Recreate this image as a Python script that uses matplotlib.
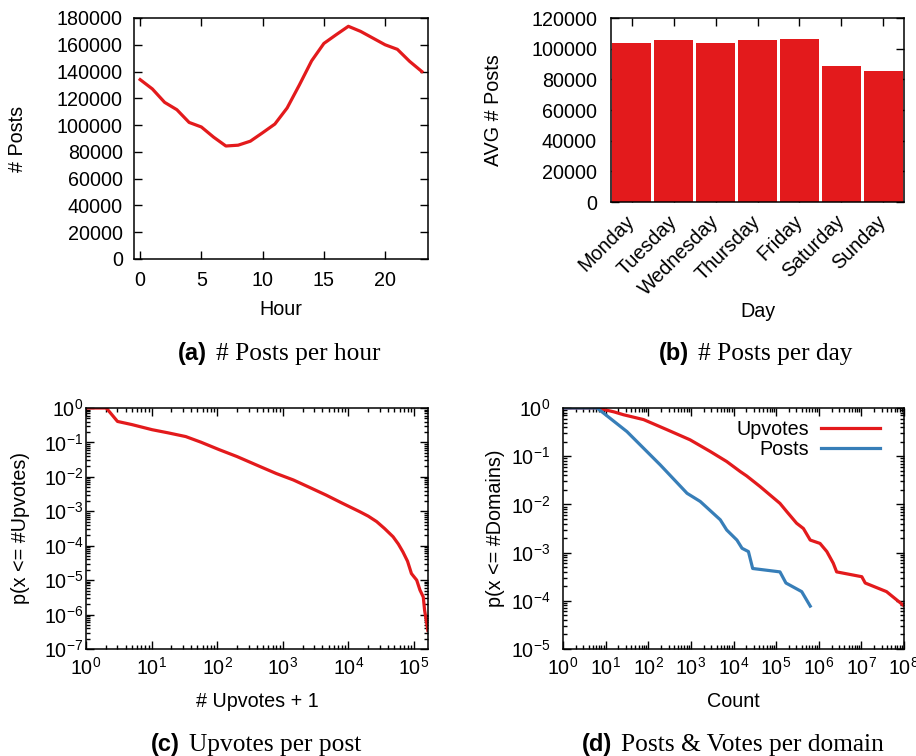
import numpy as np
import matplotlib
matplotlib.use("Agg")
import matplotlib.pyplot as plt
from matplotlib.ticker import LogLocator, NullFormatter

# ======== 字体与全局样式 ========
plt.rcParams['font.family'] = ['Liberation Sans', 'DejaVu Sans']
plt.rcParams['mathtext.default'] = 'regular'
plt.rcParams['axes.unicode_minus'] = False
plt.rcParams['font.size'] = 14.2
plt.rcParams['axes.linewidth'] = 1.1

RED = "#e31a1c"
BLUE = "#377eb8"

# ======== 数据 ========
hours = list(range(24))
posts_per_hour = [134000, 127000, 117000, 111500, 102000, 98600, 91000, 84400,
                  85000, 88000, 94300, 100800, 112800, 130000, 148000, 161000,
                  167500, 173800, 170000, 165000, 160000, 156600, 147600, 140000]

days = ["Monday", "Tuesday", "Wednesday", "Thursday", "Friday", "Saturday", "Sunday"]
avg_posts = [103400, 105400, 103400, 105600, 106500, 88600, 85600]

upv_x = [1, 2.04, 3.02, 5.0, 10.2, 17.8, 33.1, 56.2, 107, 200, 447, 794, 1445,
         2512, 4571, 7943, 14791, 20000, 26915, 35481, 47863, 57544, 67608,
         79433, 91201, 109648, 123027, 138038, 144544, 162181]
upv_p = [1, 1, 0.407, 0.33, 0.234, 0.19, 0.148, 0.102, 0.0617, 0.0389, 0.02,
         0.0125, 0.00813, 0.00501, 0.00295, 0.00174, 0.000977, 0.000724,
         0.000501, 0.000316, 0.000182, 0.000112, 6.61e-5, 3.55e-5, 1.55e-5,
         1.0e-5, 5.13e-6, 3.24e-6, 1.35e-6, 3.47e-7]

dom_upv_x = [1, 6.31, 15.8, 26.3, 77.6, 275, 955, 2818, 6918, 14454, 20417,
             42170, 123027, 177828, 301995, 436516, 630957, 1071519, 1548817,
             2187762, 2630268, 10232930, 12302688, 38904514, 95499259]
dom_upv_p = [1, 1, 0.83, 0.724, 0.575, 0.355, 0.219, 0.126, 0.0776, 0.0479,
             0.0389, 0.0234, 0.0105, 0.00708, 0.00407, 0.00316, 0.00182,
             0.00155, 0.00105, 0.000603, 0.000398, 0.000316, 0.000234,
             0.000155, 8.13e-5]

dom_posts_x = [1, 6.31, 31.6, 191, 813, 1660, 4898, 6918, 12023, 15849,
               22387, 28184, 123027, 169824, 398107, 630957]
dom_posts_p = [1, 1, 0.324, 0.0661, 0.0170, 0.0115, 0.00479, 0.00295, 0.00182,
               0.00123, 0.00105, 0.000468, 0.000398, 0.000234, 0.000155, 7.76e-5]

# ======== 画布 ========
W, H = 916, 756
fig = plt.figure(figsize=(W / 100, H / 100), dpi=100)


def box(l, t, r, b):
    return [l / W, 1 - b / H, (r - l) / W, (b - t) / H]


def style(ax, xpad, ypad):
    ax.tick_params(which='both', direction='in', top=True, right=True, width=1.0)
    ax.tick_params(which='major', length=6)
    ax.tick_params(which='minor', length=3)
    ax.tick_params(axis='x', which='both', pad=xpad)
    ax.tick_params(axis='y', which='both', pad=ypad)


def log_axes(ax):
    for axis in (ax.xaxis, ax.yaxis):
        axis.set_major_locator(LogLocator(base=10, numticks=20))
        axis.set_minor_locator(LogLocator(base=10, subs=np.arange(2, 10), numticks=200))
        axis.set_minor_formatter(NullFormatter())


# ======== (a) 每小时帖子数 ========
ax_a = fig.add_axes(box(134, 18, 428, 259))
ax_a.plot(hours, posts_per_hour, color=RED, lw=2.3)
ax_a.set_xlim(-0.5, 23.5)
ax_a.set_ylim(0, 180000)
ax_a.set_xticks([0, 5, 10, 15, 20])
ax_a.set_yticks(range(0, 180001, 20000))
style(ax_a, 9, 8)
ax_a.set_xlabel("Hour")
ax_a.xaxis.set_label_coords(0.5, -0.17)
ax_a.set_ylabel("# Posts")
ax_a.yaxis.set_label_coords(-0.364, 0.5)

# ======== (b) 每天平均帖子数 ========
ax_b = fig.add_axes(box(611, 18, 904, 202))
ax_b.bar(range(len(days)), avg_posts, width=0.93, color=RED)
ax_b.set_axisbelow(True)
ax_b.set_xlim(-0.5, len(days) - 0.5)
ax_b.set_ylim(0, 120000)
ax_b.set_yticks(range(0, 120001, 20000))
ax_b.set_xticks(range(len(days)))
ax_b.set_xticklabels(days, rotation=45, ha='right', va='center', rotation_mode='anchor')
style(ax_b, 12, 10)
ax_b.set_xlabel("Day")
ax_b.xaxis.set_label_coords(0.5, -0.543)
ax_b.set_ylabel("AVG # Posts")
ax_b.yaxis.set_label_coords(-0.369, 0.5)

# ======== (c) 每帖点赞数 CCDF ========
ax_c = fig.add_axes(box(86, 408, 428, 649))
ax_c.plot(upv_x, upv_p, color=RED, lw=2.3, solid_joinstyle='round')
ax_c.set_xscale('log')
ax_c.set_yscale('log')
ax_c.set_xlim(1, 1.63e5)
ax_c.set_ylim(1e-7, 1)
log_axes(ax_c)
style(ax_c, 6, 2)
ax_c.set_xlabel("# Upvotes + 1")
ax_c.xaxis.set_label_coords(0.5, -0.178)
ax_c.set_ylabel("p(x <= #Upvotes)")
ax_c.yaxis.set_label_coords(-0.164, 0.5)

# ======== (d) 每域名帖子与投票 CCDF ========
ax_d = fig.add_axes(box(563, 408, 904, 649))
ax_d.plot(dom_upv_x, dom_upv_p, color=RED, lw=2.3, solid_joinstyle='round', label="Upvotes")
ax_d.plot(dom_posts_x, dom_posts_p, color=BLUE, lw=2.3, solid_joinstyle='round', label="Posts")
ax_d.set_xscale('log')
ax_d.set_yscale('log')
ax_d.set_xlim(1, 1e8)
ax_d.set_ylim(1e-5, 1)
log_axes(ax_d)
style(ax_d, 6, 9)
ax_d.set_xlabel("Count")
ax_d.xaxis.set_label_coords(0.5, -0.178)
ax_d.set_ylabel("p(x <= #Domains)")
ax_d.yaxis.set_label_coords(-0.170, 0.5)
ax_d.legend(loc='upper right', bbox_to_anchor=(0.96, 0.99), frameon=False,
            markerfirst=False, borderpad=0, handlelength=3.0,
            handletextpad=0.6, labelspacing=0.02)

# ======== 子图标题 ========
captions = [
    (207, 216, 360, "(a)", "# Posts per hour"),
    (689, 698, 360, "(b)", "# Posts per day"),
    (180, 189, 751, "(c)", "Upvotes per post"),
    (612, 621, 751, "(d)", "Posts & Votes per domain"),
]
for xr, xl, yb, tag, txt in captions:
    fig.text(xr / W, 1 - yb / H, tag, ha='right', va='baseline',
             fontsize=17, fontweight='bold', family=['Liberation Sans'])
    fig.text(xl / W, 1 - yb / H, txt, ha='left', va='baseline',
             fontsize=18.3, family=['Liberation Serif'])

fig.savefig("out.png", dpi=100)
